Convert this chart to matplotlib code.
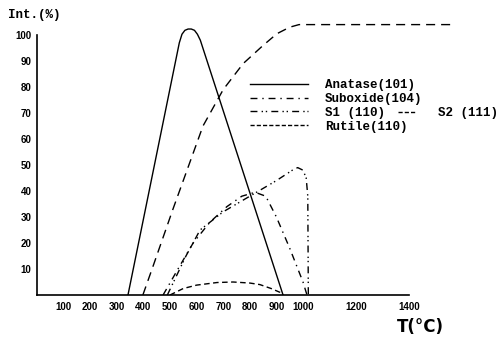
import matplotlib
matplotlib.use("Agg")
import matplotlib.pyplot as plt
from matplotlib.lines import Line2D

# phase intensity (%) vs temperature (C)
anatase_T = [342, 535, 545, 556, 568, 580, 592, 603, 614, 925]
anatase_I = [0, 97, 100.3, 101.8, 102.3, 102.3, 101.8, 100.3, 98, 0]

rutile_T = [398, 436, 511, 624, 700, 775, 850, 902, 950, 985, 1570]
rutile_I = [0, 11, 33, 65, 79, 89, 96, 100.5, 103, 104, 104]

suboxide_T = [474, 530, 587, 650, 714, 770, 820, 860, 900, 950, 1000, 1015]
suboxide_I = [0, 10, 20, 28, 34, 38, 39.5, 38, 30, 18, 5, 0]

s1_T = [490, 560, 613, 700, 800, 900, 960, 980, 1000, 1012, 1018, 1020]
s1_I = [0, 15, 25, 32, 38, 44, 48, 49, 48, 45, 38, 0]

s2_T = [500, 550, 600, 677, 737, 800, 838, 880, 914, 925]
s2_I = [0, 2.5, 3.8, 4.8, 5, 4.6, 4, 2.5, 1, 0]

xticks = [100, 200, 300, 400, 500, 600, 700, 800, 900, 1000, 1200, 1400]
yticks = [10, 20, 30, 40, 50, 60, 70, 80, 90, 100]

st_sub = (0, (5, 3.5, 1, 3.5))
st_s1 = (0, (5, 3, 1, 2, 1, 3))
st_rut = (0, (6.5, 4.3))
st_s2 = (0, (4, 2.5))

W, H = 504, 338
fig = plt.figure(figsize=(W / 100, H / 100), dpi=100)
ax = fig.add_axes([37 / W, (H - 295) / H, 425.6 / W, 286 / H])

lw = 1.0
ax.plot(anatase_T, anatase_I, color="black", lw=lw)
ax.plot(rutile_T, rutile_I, color="black", lw=lw, linestyle=st_rut)
ax.plot(suboxide_T, suboxide_I, color="black", lw=lw, linestyle=st_sub)
ax.plot(s1_T, s1_I, color="black", lw=lw, linestyle=st_s1)
ax.plot(s2_T, s2_I, color="black", lw=lw, linestyle=st_s2)

ax.set_xlim(0, 1600)
ax.set_ylim(0, 110)
for s in ["top", "right"]:
    ax.spines[s].set_visible(False)
ax.spines["bottom"].set_bounds(0, 1400)
ax.spines["left"].set_bounds(0, 100)
ax.spines["bottom"].set_linewidth(1.2)
ax.spines["left"].set_linewidth(1.2)

ax.set_xticks(xticks)
ax.set_xticklabels([str(t) for t in xticks], fontsize=7, fontweight="bold",
                   family="Liberation Sans")
ax.set_yticks(yticks)
ax.set_yticklabels([str(t) for t in yticks], fontsize=7, fontweight="bold",
                   family="Liberation Sans")
ax.tick_params(axis="x", length=0, pad=5)
ax.tick_params(axis="y", length=0, pad=4)

mono = dict(family="Liberation Mono", fontweight="bold", fontsize=9)
fig.text(8 / W, 1 - 15 / H, "Int.(%)", va="center", ha="left", **mono)
fig.text(420 / W, 1 - 327 / H, "T(°C)", va="center", ha="center",
         fontsize=12, fontweight="bold", family="DejaVu Sans")

handles = [
    Line2D([], [], color="black", lw=lw),
    Line2D([], [], color="black", lw=lw, linestyle=st_sub),
    Line2D([], [], color="black", lw=lw, linestyle=st_s1),
    Line2D([], [], color="black", lw=lw, linestyle=(0, (3, 1.5))),
]
labels = ["Anatase(101)", "Suboxide(104)", "S1 (110)", "Rutile(110)"]
leg = ax.legend(handles, labels, loc="upper left", frameon=False,
                bbox_to_anchor=(250 / W, 1 - 79 / H), bbox_transform=fig.transFigure,
                borderpad=0, borderaxespad=0, handlelength=4.6, handletextpad=1.4,
                labelspacing=0.15, prop={"family": "Liberation Mono", "weight": "bold", "size": 9})
ax.add_artist(leg)
leg2 = ax.legend([Line2D([], [], color="black", lw=lw, linestyle=(0, (3, 1.5)))], ["S2 (111)"],
                 loc="upper left", frameon=False,
                 bbox_to_anchor=(398 / W, 1 - 107 / H), bbox_transform=fig.transFigure,
                 borderpad=0, borderaxespad=0, handlelength=1.4, handletextpad=1.8,
                 prop={"family": "Liberation Mono", "weight": "bold", "size": 9})

fig.savefig("out.png", dpi=100)
